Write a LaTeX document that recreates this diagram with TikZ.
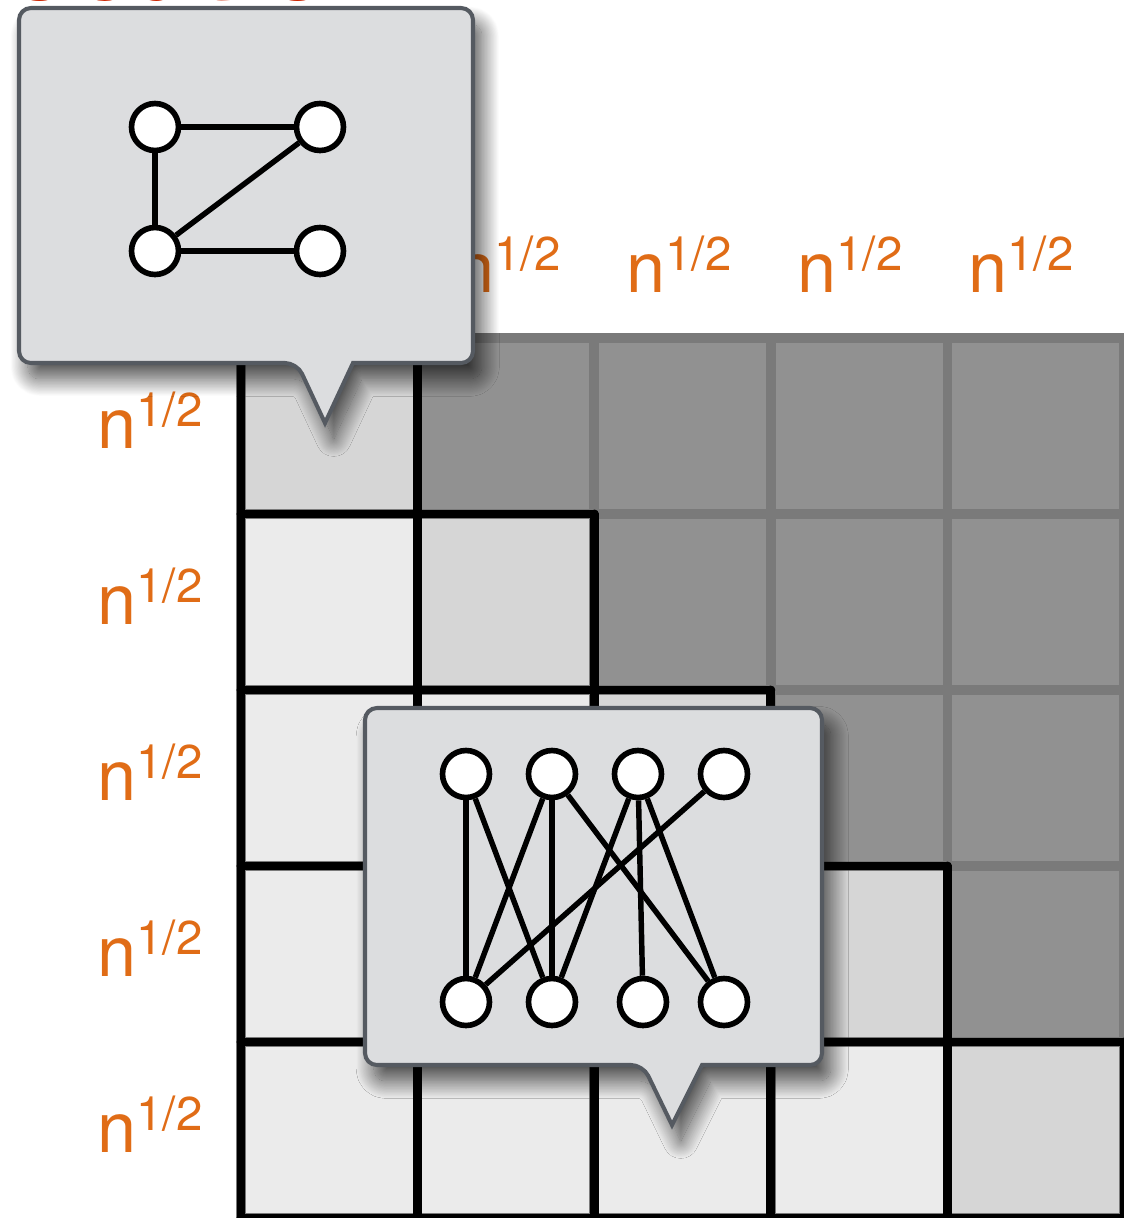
\documentclass[tikz,border=0pt]{standalone}
\usepackage{fontspec}
\usetikzlibrary{shadows.blur}
\newfontfamily\heros{TeX Gyre Heros}
\definecolor{labo}{RGB}{224,108,22}
\definecolor{ttlred}{RGB}{204,36,0}
\definecolor{boxfill}{RGB}{220,221,223}
\definecolor{boxline}{RGB}{85,90,97}
\definecolor{cellup}{RGB}{145,145,145}
\definecolor{celldiag}{RGB}{214,214,214}
\definecolor{celllow}{RGB}{235,235,235}
\definecolor{gridup}{RGB}{122,122,122}
\newcommand{\nhalf}{n\raisebox{12.5pt}{\fontsize{27}{27}\selectfont 1/2}}

\begin{document}
\begin{tikzpicture}[x=0.02cm, y=-0.02cm,
  lab/.style={anchor=base, inner sep=0pt, text=labo, font=\heros\fontsize{40}{40}\selectfont},
  blk/.style={line width=5.1pt, black, line cap=round},
  gry/.style={line width=5.4pt, gridup},
  callout/.style={fill=boxfill, draw=boxline, line width=2.3pt,
    blur shadow={shadow xshift=5pt, shadow yshift=-9pt, shadow blur radius=10pt,
      shadow blur steps=30, shadow opacity=70}},
  vtx/.style={draw, circle, fill=white, line width=3.2pt, minimum size=9.4mm, inner sep=0pt},
  edg/.style={line width=3.1pt}]
\useasboundingbox (0,0) rectangle (1124,1218);
\begin{scope}
\clip (0,0) rectangle (1124,1218);
\node[anchor=base west, inner sep=0pt, text=ttlred, font=\heros\bfseries\fontsize{63}{63}\selectfont] (ttl) at (6,0) {ocation};
\end{scope}
% cells
\foreach \r in {0,...,4}{
  \foreach \c in {0,...,4}{
    \ifnum\c>\r \def\cc{cellup}\else\ifnum\c=\r \def\cc{celldiag}\else\def\cc{celllow}\fi\fi
    \fill[\cc] ({241+176.6*\c},{338+176*\r}) rectangle ++(176.6,176);
  }}
\foreach \k in {0,...,5}{
  \draw[gry] ({241+176.6*\k},338) -- ++(0,880);
  \draw[gry] (241,{338+176*\k}) -- ++(883,0);
}
% staircase
\foreach \k in {0,...,5}{
  \pgfmathtruncatemacro\e{min(\k+1,5)}
  \pgfmathtruncatemacro\s{max(\k-1,0)}
  \draw[blk] (241,{338+176*\k}) -- ({241+176.6*\e},{338+176*\k});
  \draw[blk] ({241+176.6*\k},{338+176*\s}) -- ({241+176.6*\k},1218);
}
% labels
\foreach \k in {0,...,4}{
  \node[lab] (top\k) at ({337+171*\k},292) {\nhalf};
  \node[lab] (left\k) at (150,{448+176*\k}) {\nhalf};
}
% callout: small graph
\path[callout] (325,423) -- (353,363) [rounded corners=6.8pt] -- (473,363) -- (473,8) -- (19,8) -- (19,363) -- (297,363) [sharp corners] -- cycle;
\node[vtx] (a1) at (155,127) {}; \node[vtx] (a2) at (320,127) {};
\node[vtx] (a3) at (155,251) {}; \node[vtx] (a4) at (320,251) {};
\draw[edg] (a1) -- (a2); \draw[edg] (a1) -- (a3);
\draw[edg] (a3) -- (a2); \draw[edg] (a3) -- (a4);
% callout: bipartite block
\path[callout] (672,1125) -- (702,1065) [rounded corners=6.8pt] -- (822,1065) -- (822,708) -- (365,708) -- (365,1065) -- (643,1065) [sharp corners] -- cycle;
\foreach \n/\x in {1/466,2/552,3/638,4/724} \node[vtx] (t\n) at (\x,774) {};
\foreach \n/\x in {1/466,2/552,3/643,4/724} \node[vtx] (b\n) at (\x,1002) {};
\foreach \u/\v in {t1/b1,t1/b2,t2/b1,t2/b2,t2/b4,t3/b2,t3/b3,t3/b4,t4/b1}
  \draw[edg] (\u) -- (\v);
\end{tikzpicture}
\end{document}
